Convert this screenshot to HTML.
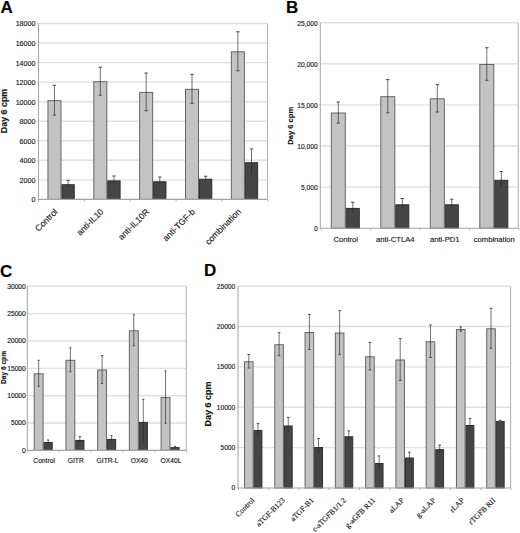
<!DOCTYPE html>
<html><head><meta charset="utf-8"><style>
html,body{margin:0;padding:0;background:#fff;}
body{width:520px;height:533px;overflow:hidden;}
svg{display:block;font-family:"Liberation Sans", sans-serif;}
text{stroke:#1a1a1a;stroke-width:0.15px;}
</style></head><body>
<svg width="520" height="533" viewBox="0 0 520 533">
<rect width="520" height="533" fill="#fff"/>
<line x1="38.5" y1="179.86" x2="267.5" y2="179.86" stroke="#e0e0e0" stroke-width="1.4"/>
<line x1="38.5" y1="160.31" x2="267.5" y2="160.31" stroke="#e0e0e0" stroke-width="1.4"/>
<line x1="38.5" y1="140.77" x2="267.5" y2="140.77" stroke="#e0e0e0" stroke-width="1.4"/>
<line x1="38.5" y1="121.22" x2="267.5" y2="121.22" stroke="#e0e0e0" stroke-width="1.4"/>
<line x1="38.5" y1="101.68" x2="267.5" y2="101.68" stroke="#e0e0e0" stroke-width="1.4"/>
<line x1="38.5" y1="82.13" x2="267.5" y2="82.13" stroke="#e0e0e0" stroke-width="1.4"/>
<line x1="38.5" y1="62.59" x2="267.5" y2="62.59" stroke="#e0e0e0" stroke-width="1.4"/>
<line x1="38.5" y1="43.04" x2="267.5" y2="43.04" stroke="#e0e0e0" stroke-width="1.4"/>
<line x1="38.5" y1="23.5" x2="267.5" y2="23.5" stroke="#e0e0e0" stroke-width="1.4"/>
<line x1="267.5" y1="23.5" x2="267.5" y2="199.4" stroke="#b4b4b4" stroke-width="1.1"/>
<line x1="38.5" y1="23.5" x2="38.5" y2="199.9" stroke="#a4a4a4" stroke-width="1"/>
<line x1="37" y1="199.4" x2="38.5" y2="199.4" stroke="#c8c8c8" stroke-width="0.8"/>
<line x1="37" y1="179.86" x2="38.5" y2="179.86" stroke="#c8c8c8" stroke-width="0.8"/>
<line x1="37" y1="160.31" x2="38.5" y2="160.31" stroke="#c8c8c8" stroke-width="0.8"/>
<line x1="37" y1="140.77" x2="38.5" y2="140.77" stroke="#c8c8c8" stroke-width="0.8"/>
<line x1="37" y1="121.22" x2="38.5" y2="121.22" stroke="#c8c8c8" stroke-width="0.8"/>
<line x1="37" y1="101.68" x2="38.5" y2="101.68" stroke="#c8c8c8" stroke-width="0.8"/>
<line x1="37" y1="82.13" x2="38.5" y2="82.13" stroke="#c8c8c8" stroke-width="0.8"/>
<line x1="37" y1="62.59" x2="38.5" y2="62.59" stroke="#c8c8c8" stroke-width="0.8"/>
<line x1="37" y1="43.04" x2="38.5" y2="43.04" stroke="#c8c8c8" stroke-width="0.8"/>
<line x1="37" y1="23.5" x2="38.5" y2="23.5" stroke="#c8c8c8" stroke-width="0.8"/>
<text x="35.4" y="202.36" font-size="7.1" text-anchor="end" fill="#1a1a1a">0</text>
<text x="35.4" y="182.81" font-size="7.1" text-anchor="end" fill="#1a1a1a">2000</text>
<text x="35.4" y="163.27" font-size="7.1" text-anchor="end" fill="#1a1a1a">4000</text>
<text x="35.4" y="143.72" font-size="7.1" text-anchor="end" fill="#1a1a1a">6000</text>
<text x="35.4" y="124.18" font-size="7.1" text-anchor="end" fill="#1a1a1a">8000</text>
<text x="35.4" y="104.63" font-size="7.1" text-anchor="end" fill="#1a1a1a">10000</text>
<text x="35.4" y="85.09" font-size="7.1" text-anchor="end" fill="#1a1a1a">12000</text>
<text x="35.4" y="65.54" font-size="7.1" text-anchor="end" fill="#1a1a1a">14000</text>
<text x="35.4" y="46" font-size="7.1" text-anchor="end" fill="#1a1a1a">16000</text>
<text x="35.4" y="26.46" font-size="7.1" text-anchor="end" fill="#1a1a1a">18000</text>
<rect x="47.95" y="100.7" width="13" height="98.7" fill="#c3c3c3" stroke="#666666" stroke-width="1"/>
<rect x="61.95" y="184.7" width="12.3" height="14.7" fill="#454545" stroke="#2e2e2e" stroke-width="1"/>
<line x1="54.45" y1="85.3" x2="54.45" y2="115.1" stroke="#262626" stroke-width="0.65"/>
<line x1="52.75" y1="85.3" x2="56.15" y2="85.3" stroke="#4a4a4a" stroke-width="1"/>
<line x1="52.75" y1="115.1" x2="56.15" y2="115.1" stroke="#4a4a4a" stroke-width="1"/>
<line x1="68.1" y1="180.4" x2="68.1" y2="188" stroke="#262626" stroke-width="0.65"/>
<line x1="66.4" y1="180.4" x2="69.8" y2="180.4" stroke="#4a4a4a" stroke-width="1"/>
<line x1="66.4" y1="188" x2="69.8" y2="188" stroke="#4a4a4a" stroke-width="1"/>
<rect x="93.8" y="81.7" width="13" height="117.7" fill="#c3c3c3" stroke="#666666" stroke-width="1"/>
<rect x="107.8" y="180.9" width="12.3" height="18.5" fill="#454545" stroke="#2e2e2e" stroke-width="1"/>
<line x1="100.3" y1="67.2" x2="100.3" y2="95.2" stroke="#262626" stroke-width="0.65"/>
<line x1="98.6" y1="67.2" x2="102" y2="67.2" stroke="#4a4a4a" stroke-width="1"/>
<line x1="98.6" y1="95.2" x2="102" y2="95.2" stroke="#4a4a4a" stroke-width="1"/>
<line x1="113.95" y1="176" x2="113.95" y2="184.8" stroke="#262626" stroke-width="0.65"/>
<line x1="112.25" y1="176" x2="115.65" y2="176" stroke="#4a4a4a" stroke-width="1"/>
<line x1="112.25" y1="184.8" x2="115.65" y2="184.8" stroke="#4a4a4a" stroke-width="1"/>
<rect x="139.65" y="92.4" width="13" height="107" fill="#c3c3c3" stroke="#666666" stroke-width="1"/>
<rect x="153.65" y="181.75" width="12.3" height="17.65" fill="#454545" stroke="#2e2e2e" stroke-width="1"/>
<line x1="146.15" y1="73.05" x2="146.15" y2="110.75" stroke="#262626" stroke-width="0.65"/>
<line x1="144.45" y1="73.05" x2="147.85" y2="73.05" stroke="#4a4a4a" stroke-width="1"/>
<line x1="144.45" y1="110.75" x2="147.85" y2="110.75" stroke="#4a4a4a" stroke-width="1"/>
<line x1="159.8" y1="177" x2="159.8" y2="185.5" stroke="#262626" stroke-width="0.65"/>
<line x1="158.1" y1="177" x2="161.5" y2="177" stroke="#4a4a4a" stroke-width="1"/>
<line x1="158.1" y1="185.5" x2="161.5" y2="185.5" stroke="#4a4a4a" stroke-width="1"/>
<rect x="185.5" y="89.3" width="13" height="110.1" fill="#c3c3c3" stroke="#666666" stroke-width="1"/>
<rect x="199.5" y="179.25" width="12.3" height="20.15" fill="#454545" stroke="#2e2e2e" stroke-width="1"/>
<line x1="192" y1="74.3" x2="192" y2="103.3" stroke="#262626" stroke-width="0.65"/>
<line x1="190.3" y1="74.3" x2="193.7" y2="74.3" stroke="#4a4a4a" stroke-width="1"/>
<line x1="190.3" y1="103.3" x2="193.7" y2="103.3" stroke="#4a4a4a" stroke-width="1"/>
<line x1="205.65" y1="176.25" x2="205.65" y2="181.25" stroke="#262626" stroke-width="0.65"/>
<line x1="203.95" y1="176.25" x2="207.35" y2="176.25" stroke="#4a4a4a" stroke-width="1"/>
<line x1="203.95" y1="181.25" x2="207.35" y2="181.25" stroke="#4a4a4a" stroke-width="1"/>
<rect x="231.35" y="51.8" width="13" height="147.6" fill="#c3c3c3" stroke="#666666" stroke-width="1"/>
<rect x="245.35" y="162.7" width="12.3" height="36.7" fill="#454545" stroke="#2e2e2e" stroke-width="1"/>
<line x1="237.85" y1="31.8" x2="237.85" y2="70.8" stroke="#262626" stroke-width="0.65"/>
<line x1="236.15" y1="31.8" x2="239.55" y2="31.8" stroke="#4a4a4a" stroke-width="1"/>
<line x1="236.15" y1="70.8" x2="239.55" y2="70.8" stroke="#4a4a4a" stroke-width="1"/>
<line x1="251.5" y1="148.95" x2="251.5" y2="175.45" stroke="#262626" stroke-width="0.65"/>
<line x1="249.8" y1="148.95" x2="253.2" y2="148.95" stroke="#4a4a4a" stroke-width="1"/>
<line x1="249.8" y1="175.45" x2="253.2" y2="175.45" stroke="#4a4a4a" stroke-width="1"/>
<line x1="38.5" y1="199.4" x2="267.5" y2="199.4" stroke="#a4a4a4" stroke-width="1.1"/>
<line x1="38.53" y1="199.4" x2="38.53" y2="201.4" stroke="#a4a4a4" stroke-width="0.8"/>
<line x1="84.38" y1="199.4" x2="84.38" y2="201.4" stroke="#a4a4a4" stroke-width="0.8"/>
<line x1="130.23" y1="199.4" x2="130.23" y2="201.4" stroke="#a4a4a4" stroke-width="0.8"/>
<line x1="176.08" y1="199.4" x2="176.08" y2="201.4" stroke="#a4a4a4" stroke-width="0.8"/>
<line x1="221.93" y1="199.4" x2="221.93" y2="201.4" stroke="#a4a4a4" stroke-width="0.8"/>
<line x1="267.77" y1="199.4" x2="267.77" y2="201.4" stroke="#a4a4a4" stroke-width="0.8"/>
<text x="58.15" y="212.3" font-size="8.65" text-anchor="end"  fill="#1a1a1a" transform="rotate(-45 58.15 212.3)">Control</text>
<text x="104" y="212.3" font-size="8.65" text-anchor="end"  fill="#1a1a1a" transform="rotate(-45 104 212.3)">anti-IL10</text>
<text x="149.85" y="212.3" font-size="8.65" text-anchor="end"  fill="#1a1a1a" transform="rotate(-45 149.85 212.3)">anti-IL10R</text>
<text x="195.7" y="212.3" font-size="8.65" text-anchor="end"  fill="#1a1a1a" transform="rotate(-45 195.7 212.3)">anti-TGF-b</text>
<text x="241.55" y="212.3" font-size="8.65" text-anchor="end"  fill="#1a1a1a" transform="rotate(-45 241.55 212.3)">combination</text>
<text x="7.4" y="111" font-size="8.9" font-weight="bold" text-anchor="middle" fill="#111" transform="rotate(-90 7.4 111)">Day 6 cpm</text>
<text x="0.4" y="13.3" font-size="17" font-weight="bold" fill="#000">A</text>
<line x1="320.3" y1="187.1" x2="518.3" y2="187.1" stroke="#e0e0e0" stroke-width="1.4"/>
<line x1="320.3" y1="146" x2="518.3" y2="146" stroke="#e0e0e0" stroke-width="1.4"/>
<line x1="320.3" y1="104.9" x2="518.3" y2="104.9" stroke="#e0e0e0" stroke-width="1.4"/>
<line x1="320.3" y1="63.8" x2="518.3" y2="63.8" stroke="#e0e0e0" stroke-width="1.4"/>
<line x1="320.3" y1="22.7" x2="518.3" y2="22.7" stroke="#e0e0e0" stroke-width="1.4"/>
<line x1="518.3" y1="22.7" x2="518.3" y2="228.2" stroke="#b4b4b4" stroke-width="1.1"/>
<line x1="320.3" y1="22.7" x2="320.3" y2="228.7" stroke="#a4a4a4" stroke-width="1"/>
<line x1="318.8" y1="228.2" x2="320.3" y2="228.2" stroke="#c8c8c8" stroke-width="0.8"/>
<line x1="318.8" y1="187.1" x2="320.3" y2="187.1" stroke="#c8c8c8" stroke-width="0.8"/>
<line x1="318.8" y1="146" x2="320.3" y2="146" stroke="#c8c8c8" stroke-width="0.8"/>
<line x1="318.8" y1="104.9" x2="320.3" y2="104.9" stroke="#c8c8c8" stroke-width="0.8"/>
<line x1="318.8" y1="63.8" x2="320.3" y2="63.8" stroke="#c8c8c8" stroke-width="0.8"/>
<line x1="318.8" y1="22.7" x2="320.3" y2="22.7" stroke="#c8c8c8" stroke-width="0.8"/>
<text x="317.8" y="231.11" font-size="6.7" text-anchor="end" fill="#1a1a1a">0</text>
<text x="317.8" y="190.01" font-size="6.7" text-anchor="end" fill="#1a1a1a">5,000</text>
<text x="317.8" y="148.91" font-size="6.7" text-anchor="end" fill="#1a1a1a">10,000</text>
<text x="317.8" y="107.81" font-size="6.7" text-anchor="end" fill="#1a1a1a">15,000</text>
<text x="317.8" y="66.71" font-size="6.7" text-anchor="end" fill="#1a1a1a">20,000</text>
<text x="317.8" y="25.61" font-size="6.7" text-anchor="end" fill="#1a1a1a">25,000</text>
<rect x="331.3" y="113" width="14" height="115.2" fill="#c3c3c3" stroke="#666666" stroke-width="1"/>
<rect x="346.3" y="208.4" width="13" height="19.8" fill="#454545" stroke="#2e2e2e" stroke-width="1"/>
<line x1="338.3" y1="102" x2="338.3" y2="123" stroke="#262626" stroke-width="0.65"/>
<line x1="336.6" y1="102" x2="340" y2="102" stroke="#4a4a4a" stroke-width="1"/>
<line x1="336.6" y1="123" x2="340" y2="123" stroke="#4a4a4a" stroke-width="1"/>
<line x1="352.8" y1="202.3" x2="352.8" y2="213.5" stroke="#262626" stroke-width="0.65"/>
<line x1="351.1" y1="202.3" x2="354.5" y2="202.3" stroke="#4a4a4a" stroke-width="1"/>
<line x1="351.1" y1="213.5" x2="354.5" y2="213.5" stroke="#4a4a4a" stroke-width="1"/>
<rect x="380.8" y="96.7" width="14" height="131.5" fill="#c3c3c3" stroke="#666666" stroke-width="1"/>
<rect x="395.8" y="204.8" width="13" height="23.4" fill="#454545" stroke="#2e2e2e" stroke-width="1"/>
<line x1="387.8" y1="79.6" x2="387.8" y2="112.8" stroke="#262626" stroke-width="0.65"/>
<line x1="386.1" y1="79.6" x2="389.5" y2="79.6" stroke="#4a4a4a" stroke-width="1"/>
<line x1="386.1" y1="112.8" x2="389.5" y2="112.8" stroke="#4a4a4a" stroke-width="1"/>
<line x1="402.3" y1="198.5" x2="402.3" y2="210.1" stroke="#262626" stroke-width="0.65"/>
<line x1="400.6" y1="198.5" x2="404" y2="198.5" stroke="#4a4a4a" stroke-width="1"/>
<line x1="400.6" y1="210.1" x2="404" y2="210.1" stroke="#4a4a4a" stroke-width="1"/>
<rect x="430.3" y="98.8" width="14" height="129.4" fill="#c3c3c3" stroke="#666666" stroke-width="1"/>
<rect x="445.3" y="204.8" width="13" height="23.4" fill="#454545" stroke="#2e2e2e" stroke-width="1"/>
<line x1="437.3" y1="84.6" x2="437.3" y2="112" stroke="#262626" stroke-width="0.65"/>
<line x1="435.6" y1="84.6" x2="439" y2="84.6" stroke="#4a4a4a" stroke-width="1"/>
<line x1="435.6" y1="112" x2="439" y2="112" stroke="#4a4a4a" stroke-width="1"/>
<line x1="451.8" y1="199.2" x2="451.8" y2="209.4" stroke="#262626" stroke-width="0.65"/>
<line x1="450.1" y1="199.2" x2="453.5" y2="199.2" stroke="#4a4a4a" stroke-width="1"/>
<line x1="450.1" y1="209.4" x2="453.5" y2="209.4" stroke="#4a4a4a" stroke-width="1"/>
<rect x="479.8" y="64.5" width="14" height="163.7" fill="#c3c3c3" stroke="#666666" stroke-width="1"/>
<rect x="494.8" y="180.3" width="13" height="47.9" fill="#454545" stroke="#2e2e2e" stroke-width="1"/>
<line x1="486.8" y1="47.75" x2="486.8" y2="80.25" stroke="#262626" stroke-width="0.65"/>
<line x1="485.1" y1="47.75" x2="488.5" y2="47.75" stroke="#4a4a4a" stroke-width="1"/>
<line x1="485.1" y1="80.25" x2="488.5" y2="80.25" stroke="#4a4a4a" stroke-width="1"/>
<line x1="501.3" y1="171.5" x2="501.3" y2="188.1" stroke="#262626" stroke-width="0.65"/>
<line x1="499.6" y1="171.5" x2="503" y2="171.5" stroke="#4a4a4a" stroke-width="1"/>
<line x1="499.6" y1="188.1" x2="503" y2="188.1" stroke="#4a4a4a" stroke-width="1"/>
<line x1="320.3" y1="228.2" x2="518.3" y2="228.2" stroke="#a4a4a4" stroke-width="1.1"/>
<line x1="321.05" y1="228.2" x2="321.05" y2="230.2" stroke="#a4a4a4" stroke-width="0.8"/>
<line x1="370.55" y1="228.2" x2="370.55" y2="230.2" stroke="#a4a4a4" stroke-width="0.8"/>
<line x1="420.05" y1="228.2" x2="420.05" y2="230.2" stroke="#a4a4a4" stroke-width="0.8"/>
<line x1="469.55" y1="228.2" x2="469.55" y2="230.2" stroke="#a4a4a4" stroke-width="0.8"/>
<line x1="519.05" y1="228.2" x2="519.05" y2="230.2" stroke="#a4a4a4" stroke-width="0.8"/>
<text x="345.8" y="242.3" font-size="7.6" text-anchor="middle" fill="#1a1a1a">Control</text>
<text x="395.3" y="242.3" font-size="7.6" text-anchor="middle" fill="#1a1a1a">anti-CTLA4</text>
<text x="444.8" y="242.3" font-size="7.6" text-anchor="middle" fill="#1a1a1a">anti-PD1</text>
<text x="494.3" y="242.3" font-size="7.6" text-anchor="middle" fill="#1a1a1a">combination</text>
<text x="292.6" y="125.8" font-size="7.6" font-weight="bold" text-anchor="middle" fill="#111" transform="rotate(-90 292.6 125.8)">Day 6 cpm</text>
<text x="286" y="13.1" font-size="17" font-weight="bold" fill="#000">B</text>
<line x1="27.3" y1="423.05" x2="186.3" y2="423.05" stroke="#e0e0e0" stroke-width="1.4"/>
<line x1="27.3" y1="395.7" x2="186.3" y2="395.7" stroke="#e0e0e0" stroke-width="1.4"/>
<line x1="27.3" y1="368.35" x2="186.3" y2="368.35" stroke="#e0e0e0" stroke-width="1.4"/>
<line x1="27.3" y1="341" x2="186.3" y2="341" stroke="#e0e0e0" stroke-width="1.4"/>
<line x1="27.3" y1="313.65" x2="186.3" y2="313.65" stroke="#e0e0e0" stroke-width="1.4"/>
<line x1="27.3" y1="286.3" x2="186.3" y2="286.3" stroke="#e0e0e0" stroke-width="1.4"/>
<line x1="186.3" y1="286.3" x2="186.3" y2="450.4" stroke="#b4b4b4" stroke-width="1.1"/>
<line x1="27.3" y1="286.3" x2="27.3" y2="450.9" stroke="#a4a4a4" stroke-width="1"/>
<line x1="25.8" y1="450.4" x2="27.3" y2="450.4" stroke="#c8c8c8" stroke-width="0.8"/>
<line x1="25.8" y1="423.05" x2="27.3" y2="423.05" stroke="#c8c8c8" stroke-width="0.8"/>
<line x1="25.8" y1="395.7" x2="27.3" y2="395.7" stroke="#c8c8c8" stroke-width="0.8"/>
<line x1="25.8" y1="368.35" x2="27.3" y2="368.35" stroke="#c8c8c8" stroke-width="0.8"/>
<line x1="25.8" y1="341" x2="27.3" y2="341" stroke="#c8c8c8" stroke-width="0.8"/>
<line x1="25.8" y1="313.65" x2="27.3" y2="313.65" stroke="#c8c8c8" stroke-width="0.8"/>
<line x1="25.8" y1="286.3" x2="27.3" y2="286.3" stroke="#c8c8c8" stroke-width="0.8"/>
<text x="25.8" y="452.81" font-size="6.7" text-anchor="end" fill="#1a1a1a">0</text>
<text x="25.8" y="425.46" font-size="6.7" text-anchor="end" fill="#1a1a1a">5000</text>
<text x="25.8" y="398.11" font-size="6.7" text-anchor="end" fill="#1a1a1a">10000</text>
<text x="25.8" y="370.76" font-size="6.7" text-anchor="end" fill="#1a1a1a">15000</text>
<text x="25.8" y="343.41" font-size="6.7" text-anchor="end" fill="#1a1a1a">20000</text>
<text x="25.8" y="316.06" font-size="6.7" text-anchor="end" fill="#1a1a1a">25000</text>
<text x="25.8" y="288.71" font-size="6.7" text-anchor="end" fill="#1a1a1a">30000</text>
<rect x="34.2" y="373.8" width="8.9" height="76.6" fill="#c3c3c3" stroke="#666666" stroke-width="1"/>
<rect x="44.1" y="442.5" width="8.1" height="7.9" fill="#454545" stroke="#2e2e2e" stroke-width="1"/>
<line x1="38.65" y1="360.3" x2="38.65" y2="386.3" stroke="#262626" stroke-width="0.65"/>
<line x1="37.65" y1="360.3" x2="39.65" y2="360.3" stroke="#4a4a4a" stroke-width="1"/>
<line x1="37.65" y1="386.3" x2="39.65" y2="386.3" stroke="#4a4a4a" stroke-width="1"/>
<line x1="48.15" y1="440" x2="48.15" y2="444" stroke="#262626" stroke-width="0.65"/>
<line x1="47.15" y1="440" x2="49.15" y2="440" stroke="#4a4a4a" stroke-width="1"/>
<line x1="47.15" y1="444" x2="49.15" y2="444" stroke="#4a4a4a" stroke-width="1"/>
<rect x="65.92" y="360.3" width="8.9" height="90.1" fill="#c3c3c3" stroke="#666666" stroke-width="1"/>
<rect x="75.82" y="440.5" width="8.1" height="9.9" fill="#454545" stroke="#2e2e2e" stroke-width="1"/>
<line x1="70.37" y1="347.8" x2="70.37" y2="371.8" stroke="#262626" stroke-width="0.65"/>
<line x1="69.37" y1="347.8" x2="71.37" y2="347.8" stroke="#4a4a4a" stroke-width="1"/>
<line x1="69.37" y1="371.8" x2="71.37" y2="371.8" stroke="#4a4a4a" stroke-width="1"/>
<line x1="79.87" y1="436.5" x2="79.87" y2="443.5" stroke="#262626" stroke-width="0.65"/>
<line x1="78.87" y1="436.5" x2="80.87" y2="436.5" stroke="#4a4a4a" stroke-width="1"/>
<line x1="78.87" y1="443.5" x2="80.87" y2="443.5" stroke="#4a4a4a" stroke-width="1"/>
<rect x="97.64" y="370" width="8.9" height="80.4" fill="#c3c3c3" stroke="#666666" stroke-width="1"/>
<rect x="107.54" y="439.4" width="8.1" height="11" fill="#454545" stroke="#2e2e2e" stroke-width="1"/>
<line x1="102.09" y1="355.5" x2="102.09" y2="383.5" stroke="#262626" stroke-width="0.65"/>
<line x1="101.09" y1="355.5" x2="103.09" y2="355.5" stroke="#4a4a4a" stroke-width="1"/>
<line x1="101.09" y1="383.5" x2="103.09" y2="383.5" stroke="#4a4a4a" stroke-width="1"/>
<line x1="111.59" y1="435.6" x2="111.59" y2="442.2" stroke="#262626" stroke-width="0.65"/>
<line x1="110.59" y1="435.6" x2="112.59" y2="435.6" stroke="#4a4a4a" stroke-width="1"/>
<line x1="110.59" y1="442.2" x2="112.59" y2="442.2" stroke="#4a4a4a" stroke-width="1"/>
<rect x="129.36" y="330.8" width="8.9" height="119.6" fill="#c3c3c3" stroke="#666666" stroke-width="1"/>
<rect x="139.26" y="422.4" width="8.1" height="28" fill="#454545" stroke="#2e2e2e" stroke-width="1"/>
<line x1="133.81" y1="314.8" x2="133.81" y2="345.8" stroke="#262626" stroke-width="0.65"/>
<line x1="132.81" y1="314.8" x2="134.81" y2="314.8" stroke="#4a4a4a" stroke-width="1"/>
<line x1="132.81" y1="345.8" x2="134.81" y2="345.8" stroke="#4a4a4a" stroke-width="1"/>
<line x1="143.31" y1="399.4" x2="143.31" y2="444.4" stroke="#262626" stroke-width="0.65"/>
<line x1="142.31" y1="399.4" x2="144.31" y2="399.4" stroke="#4a4a4a" stroke-width="1"/>
<line x1="142.31" y1="444.4" x2="144.31" y2="444.4" stroke="#4a4a4a" stroke-width="1"/>
<rect x="161.08" y="397.6" width="8.9" height="52.8" fill="#c3c3c3" stroke="#666666" stroke-width="1"/>
<rect x="170.98" y="447.6" width="8.1" height="2.8" fill="#454545" stroke="#2e2e2e" stroke-width="1"/>
<line x1="165.53" y1="370.9" x2="165.53" y2="423.3" stroke="#262626" stroke-width="0.65"/>
<line x1="164.53" y1="370.9" x2="166.53" y2="370.9" stroke="#4a4a4a" stroke-width="1"/>
<line x1="164.53" y1="423.3" x2="166.53" y2="423.3" stroke="#4a4a4a" stroke-width="1"/>
<line x1="175.03" y1="446.4" x2="175.03" y2="447.8" stroke="#262626" stroke-width="0.65"/>
<line x1="174.03" y1="446.4" x2="176.03" y2="446.4" stroke="#4a4a4a" stroke-width="1"/>
<line x1="174.03" y1="447.8" x2="176.03" y2="447.8" stroke="#4a4a4a" stroke-width="1"/>
<line x1="27.3" y1="450.4" x2="186.3" y2="450.4" stroke="#a4a4a4" stroke-width="1.1"/>
<line x1="27.74" y1="450.4" x2="27.74" y2="452.4" stroke="#a4a4a4" stroke-width="0.8"/>
<line x1="59.46" y1="450.4" x2="59.46" y2="452.4" stroke="#a4a4a4" stroke-width="0.8"/>
<line x1="91.18" y1="450.4" x2="91.18" y2="452.4" stroke="#a4a4a4" stroke-width="0.8"/>
<line x1="122.9" y1="450.4" x2="122.9" y2="452.4" stroke="#a4a4a4" stroke-width="0.8"/>
<line x1="154.62" y1="450.4" x2="154.62" y2="452.4" stroke="#a4a4a4" stroke-width="0.8"/>
<line x1="186.34" y1="450.4" x2="186.34" y2="452.4" stroke="#a4a4a4" stroke-width="0.8"/>
<text x="44.1" y="462.9" font-size="6.7" text-anchor="middle" fill="#1a1a1a">Control</text>
<text x="75.82" y="462.9" font-size="6.7" text-anchor="middle" fill="#1a1a1a">GITR</text>
<text x="107.54" y="462.9" font-size="6.7" text-anchor="middle" fill="#1a1a1a">GITR-L</text>
<text x="139.26" y="462.9" font-size="6.7" text-anchor="middle" fill="#1a1a1a">OX40</text>
<text x="170.98" y="462.9" font-size="6.7" text-anchor="middle" fill="#1a1a1a">OX40L</text>
<text x="5.8" y="367.5" font-size="6.6" font-weight="bold" text-anchor="middle" fill="#111" transform="rotate(-90 5.8 367.5)">Day 6 cpm</text>
<text x="0.1" y="276.9" font-size="17" font-weight="bold" fill="#000">C</text>
<line x1="238" y1="447.64" x2="510.6" y2="447.64" stroke="#e0e0e0" stroke-width="1.4"/>
<line x1="238" y1="407.28" x2="510.6" y2="407.28" stroke="#e0e0e0" stroke-width="1.4"/>
<line x1="238" y1="366.92" x2="510.6" y2="366.92" stroke="#e0e0e0" stroke-width="1.4"/>
<line x1="238" y1="326.56" x2="510.6" y2="326.56" stroke="#e0e0e0" stroke-width="1.4"/>
<line x1="238" y1="286.2" x2="510.6" y2="286.2" stroke="#e0e0e0" stroke-width="1.4"/>
<line x1="510.6" y1="286.2" x2="510.6" y2="488" stroke="#b4b4b4" stroke-width="1.1"/>
<line x1="238" y1="286.2" x2="238" y2="488.5" stroke="#a4a4a4" stroke-width="1"/>
<line x1="236.5" y1="488" x2="238" y2="488" stroke="#c8c8c8" stroke-width="0.8"/>
<line x1="236.5" y1="447.64" x2="238" y2="447.64" stroke="#c8c8c8" stroke-width="0.8"/>
<line x1="236.5" y1="407.28" x2="238" y2="407.28" stroke="#c8c8c8" stroke-width="0.8"/>
<line x1="236.5" y1="366.92" x2="238" y2="366.92" stroke="#c8c8c8" stroke-width="0.8"/>
<line x1="236.5" y1="326.56" x2="238" y2="326.56" stroke="#c8c8c8" stroke-width="0.8"/>
<line x1="236.5" y1="286.2" x2="238" y2="286.2" stroke="#c8c8c8" stroke-width="0.8"/>
<text x="235.2" y="490.38" font-size="6.6" text-anchor="end" fill="#1a1a1a">0</text>
<text x="235.2" y="450.02" font-size="6.6" text-anchor="end" fill="#1a1a1a">5000</text>
<text x="235.2" y="409.66" font-size="6.6" text-anchor="end" fill="#1a1a1a">10000</text>
<text x="235.2" y="369.3" font-size="6.6" text-anchor="end" fill="#1a1a1a">15000</text>
<text x="235.2" y="328.94" font-size="6.6" text-anchor="end" fill="#1a1a1a">20000</text>
<text x="235.2" y="288.58" font-size="6.6" text-anchor="end" fill="#1a1a1a">25000</text>
<rect x="244.5" y="361.75" width="8.6" height="126.25" fill="#c3c3c3" stroke="#666666" stroke-width="1"/>
<rect x="254.1" y="430.5" width="7.8" height="57.5" fill="#454545" stroke="#2e2e2e" stroke-width="1"/>
<line x1="248.8" y1="354.5" x2="248.8" y2="368" stroke="#262626" stroke-width="0.65"/>
<line x1="247.5" y1="354.5" x2="250.1" y2="354.5" stroke="#4a4a4a" stroke-width="1"/>
<line x1="247.5" y1="368" x2="250.1" y2="368" stroke="#4a4a4a" stroke-width="1"/>
<line x1="258" y1="423.6" x2="258" y2="436.4" stroke="#262626" stroke-width="0.65"/>
<line x1="256.7" y1="423.6" x2="259.3" y2="423.6" stroke="#4a4a4a" stroke-width="1"/>
<line x1="256.7" y1="436.4" x2="259.3" y2="436.4" stroke="#4a4a4a" stroke-width="1"/>
<rect x="274.78" y="344.75" width="8.6" height="143.25" fill="#c3c3c3" stroke="#666666" stroke-width="1"/>
<rect x="284.38" y="426" width="7.8" height="62" fill="#454545" stroke="#2e2e2e" stroke-width="1"/>
<line x1="279.08" y1="332.75" x2="279.08" y2="355.75" stroke="#262626" stroke-width="0.65"/>
<line x1="277.78" y1="332.75" x2="280.38" y2="332.75" stroke="#4a4a4a" stroke-width="1"/>
<line x1="277.78" y1="355.75" x2="280.38" y2="355.75" stroke="#4a4a4a" stroke-width="1"/>
<line x1="288.28" y1="417.4" x2="288.28" y2="433.6" stroke="#262626" stroke-width="0.65"/>
<line x1="286.98" y1="417.4" x2="289.58" y2="417.4" stroke="#4a4a4a" stroke-width="1"/>
<line x1="286.98" y1="433.6" x2="289.58" y2="433.6" stroke="#4a4a4a" stroke-width="1"/>
<rect x="305.06" y="332.5" width="8.6" height="155.5" fill="#c3c3c3" stroke="#666666" stroke-width="1"/>
<rect x="314.66" y="447.5" width="7.8" height="40.5" fill="#454545" stroke="#2e2e2e" stroke-width="1"/>
<line x1="309.36" y1="314.5" x2="309.36" y2="349.5" stroke="#262626" stroke-width="0.65"/>
<line x1="308.06" y1="314.5" x2="310.66" y2="314.5" stroke="#4a4a4a" stroke-width="1"/>
<line x1="308.06" y1="349.5" x2="310.66" y2="349.5" stroke="#4a4a4a" stroke-width="1"/>
<line x1="318.56" y1="438.5" x2="318.56" y2="455.5" stroke="#262626" stroke-width="0.65"/>
<line x1="317.26" y1="438.5" x2="319.86" y2="438.5" stroke="#4a4a4a" stroke-width="1"/>
<line x1="317.26" y1="455.5" x2="319.86" y2="455.5" stroke="#4a4a4a" stroke-width="1"/>
<rect x="335.34" y="333" width="8.6" height="155" fill="#c3c3c3" stroke="#666666" stroke-width="1"/>
<rect x="344.94" y="436.75" width="7.8" height="51.25" fill="#454545" stroke="#2e2e2e" stroke-width="1"/>
<line x1="339.64" y1="310.6" x2="339.64" y2="354.4" stroke="#262626" stroke-width="0.65"/>
<line x1="338.34" y1="310.6" x2="340.94" y2="310.6" stroke="#4a4a4a" stroke-width="1"/>
<line x1="338.34" y1="354.4" x2="340.94" y2="354.4" stroke="#4a4a4a" stroke-width="1"/>
<line x1="348.84" y1="430.85" x2="348.84" y2="441.65" stroke="#262626" stroke-width="0.65"/>
<line x1="347.54" y1="430.85" x2="350.14" y2="430.85" stroke="#4a4a4a" stroke-width="1"/>
<line x1="347.54" y1="441.65" x2="350.14" y2="441.65" stroke="#4a4a4a" stroke-width="1"/>
<rect x="365.62" y="356.75" width="8.6" height="131.25" fill="#c3c3c3" stroke="#666666" stroke-width="1"/>
<rect x="375.22" y="463.5" width="7.8" height="24.5" fill="#454545" stroke="#2e2e2e" stroke-width="1"/>
<line x1="369.92" y1="342.5" x2="369.92" y2="370" stroke="#262626" stroke-width="0.65"/>
<line x1="368.62" y1="342.5" x2="371.22" y2="342.5" stroke="#4a4a4a" stroke-width="1"/>
<line x1="368.62" y1="370" x2="371.22" y2="370" stroke="#4a4a4a" stroke-width="1"/>
<line x1="379.12" y1="455.9" x2="379.12" y2="470.1" stroke="#262626" stroke-width="0.65"/>
<line x1="377.82" y1="455.9" x2="380.42" y2="455.9" stroke="#4a4a4a" stroke-width="1"/>
<line x1="377.82" y1="470.1" x2="380.42" y2="470.1" stroke="#4a4a4a" stroke-width="1"/>
<rect x="395.9" y="360" width="8.6" height="128" fill="#c3c3c3" stroke="#666666" stroke-width="1"/>
<rect x="405.5" y="458" width="7.8" height="30" fill="#454545" stroke="#2e2e2e" stroke-width="1"/>
<line x1="400.2" y1="338.6" x2="400.2" y2="380.4" stroke="#262626" stroke-width="0.65"/>
<line x1="398.9" y1="338.6" x2="401.5" y2="338.6" stroke="#4a4a4a" stroke-width="1"/>
<line x1="398.9" y1="380.4" x2="401.5" y2="380.4" stroke="#4a4a4a" stroke-width="1"/>
<line x1="409.4" y1="452.1" x2="409.4" y2="462.9" stroke="#262626" stroke-width="0.65"/>
<line x1="408.1" y1="452.1" x2="410.7" y2="452.1" stroke="#4a4a4a" stroke-width="1"/>
<line x1="408.1" y1="462.9" x2="410.7" y2="462.9" stroke="#4a4a4a" stroke-width="1"/>
<rect x="426.18" y="341.75" width="8.6" height="146.25" fill="#c3c3c3" stroke="#666666" stroke-width="1"/>
<rect x="435.78" y="449.7" width="7.8" height="38.3" fill="#454545" stroke="#2e2e2e" stroke-width="1"/>
<line x1="430.48" y1="325" x2="430.48" y2="357.5" stroke="#262626" stroke-width="0.65"/>
<line x1="429.18" y1="325" x2="431.78" y2="325" stroke="#4a4a4a" stroke-width="1"/>
<line x1="429.18" y1="357.5" x2="431.78" y2="357.5" stroke="#4a4a4a" stroke-width="1"/>
<line x1="439.68" y1="445.1" x2="439.68" y2="453.3" stroke="#262626" stroke-width="0.65"/>
<line x1="438.38" y1="445.1" x2="440.98" y2="445.1" stroke="#4a4a4a" stroke-width="1"/>
<line x1="438.38" y1="453.3" x2="440.98" y2="453.3" stroke="#4a4a4a" stroke-width="1"/>
<rect x="456.46" y="329.5" width="8.6" height="158.5" fill="#c3c3c3" stroke="#666666" stroke-width="1"/>
<rect x="466.06" y="425.5" width="7.8" height="62.5" fill="#454545" stroke="#2e2e2e" stroke-width="1"/>
<line x1="460.76" y1="326.8" x2="460.76" y2="331.2" stroke="#262626" stroke-width="0.65"/>
<line x1="459.46" y1="326.8" x2="462.06" y2="326.8" stroke="#4a4a4a" stroke-width="1"/>
<line x1="459.46" y1="331.2" x2="462.06" y2="331.2" stroke="#4a4a4a" stroke-width="1"/>
<line x1="469.96" y1="418.4" x2="469.96" y2="431.6" stroke="#262626" stroke-width="0.65"/>
<line x1="468.66" y1="418.4" x2="471.26" y2="418.4" stroke="#4a4a4a" stroke-width="1"/>
<line x1="468.66" y1="431.6" x2="471.26" y2="431.6" stroke="#4a4a4a" stroke-width="1"/>
<rect x="486.74" y="328.8" width="8.6" height="159.2" fill="#c3c3c3" stroke="#666666" stroke-width="1"/>
<rect x="496.34" y="421.4" width="7.8" height="66.6" fill="#454545" stroke="#2e2e2e" stroke-width="1"/>
<line x1="491.04" y1="308.3" x2="491.04" y2="348.3" stroke="#262626" stroke-width="0.65"/>
<line x1="489.74" y1="308.3" x2="492.34" y2="308.3" stroke="#4a4a4a" stroke-width="1"/>
<line x1="489.74" y1="348.3" x2="492.34" y2="348.3" stroke="#4a4a4a" stroke-width="1"/>
<line x1="500.24" y1="420.3" x2="500.24" y2="421.5" stroke="#262626" stroke-width="0.65"/>
<line x1="498.94" y1="420.3" x2="501.54" y2="420.3" stroke="#4a4a4a" stroke-width="1"/>
<line x1="498.94" y1="421.5" x2="501.54" y2="421.5" stroke="#4a4a4a" stroke-width="1"/>
<line x1="238" y1="488" x2="510.6" y2="488" stroke="#a4a4a4" stroke-width="1.1"/>
<line x1="238.46" y1="488" x2="238.46" y2="490" stroke="#a4a4a4" stroke-width="0.8"/>
<line x1="268.74" y1="488" x2="268.74" y2="490" stroke="#a4a4a4" stroke-width="0.8"/>
<line x1="299.02" y1="488" x2="299.02" y2="490" stroke="#a4a4a4" stroke-width="0.8"/>
<line x1="329.3" y1="488" x2="329.3" y2="490" stroke="#a4a4a4" stroke-width="0.8"/>
<line x1="359.58" y1="488" x2="359.58" y2="490" stroke="#a4a4a4" stroke-width="0.8"/>
<line x1="389.86" y1="488" x2="389.86" y2="490" stroke="#a4a4a4" stroke-width="0.8"/>
<line x1="420.14" y1="488" x2="420.14" y2="490" stroke="#a4a4a4" stroke-width="0.8"/>
<line x1="450.42" y1="488" x2="450.42" y2="490" stroke="#a4a4a4" stroke-width="0.8"/>
<line x1="480.7" y1="488" x2="480.7" y2="490" stroke="#a4a4a4" stroke-width="0.8"/>
<line x1="510.98" y1="488" x2="510.98" y2="490" stroke="#a4a4a4" stroke-width="0.8"/>
<text x="255.1" y="500.8" font-size="7.7" text-anchor="end" font-family='"Liberation Serif", serif' fill="#1a1a1a" transform="rotate(-45 255.1 500.8)">Control</text>
<text x="285.38" y="500.8" font-size="7.7" text-anchor="end" font-family='"Liberation Serif", serif' fill="#1a1a1a" transform="rotate(-45 285.38 500.8)">aTGF-B123</text>
<text x="314.16" y="500.8" font-size="7.7" text-anchor="end" font-family='"Liberation Serif", serif' fill="#1a1a1a" transform="rotate(-45 314.16 500.8)">aTGF-B1</text>
<text x="346.44" y="500.8" font-size="7.7" text-anchor="end" font-family='"Liberation Serif", serif' fill="#1a1a1a" transform="rotate(-45 346.44 500.8)">c-aTGFB1/1.2</text>
<text x="375.72" y="500.8" font-size="7.7" text-anchor="end" font-family='"Liberation Serif", serif' fill="#1a1a1a" transform="rotate(-45 375.72 500.8)">g-aGFB R11</text>
<text x="404.5" y="500.8" font-size="7.7" text-anchor="end" font-family='"Liberation Serif", serif' fill="#1a1a1a" transform="rotate(-45 404.5 500.8)">aLAP</text>
<text x="435.98" y="500.8" font-size="7.7" text-anchor="end" font-family='"Liberation Serif", serif' fill="#1a1a1a" transform="rotate(-45 435.98 500.8)">g-aLAP</text>
<text x="464.76" y="500.8" font-size="7.7" text-anchor="end" font-family='"Liberation Serif", serif' fill="#1a1a1a" transform="rotate(-45 464.76 500.8)">rLAP</text>
<text x="495.94" y="500.8" font-size="7.7" text-anchor="end" font-family='"Liberation Serif", serif' fill="#1a1a1a" transform="rotate(-45 495.94 500.8)">rTGFB RII</text>
<text x="211.4" y="404" font-size="9" font-weight="bold" text-anchor="middle" fill="#111" transform="rotate(-90 211.4 404)">Day 6 cpm</text>
<text x="204" y="276.4" font-size="17" font-weight="bold" fill="#000">D</text>
</svg>
</body></html>
